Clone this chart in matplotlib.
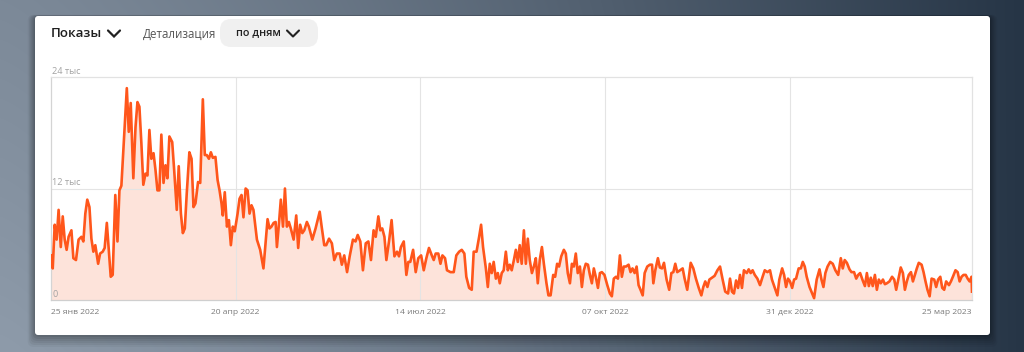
import numpy as np
import matplotlib
matplotlib.use("Agg")
import matplotlib.pyplot as plt
import matplotlib.dates as mdates
from matplotlib.patches import FancyBboxPatch
from matplotlib.transforms import blended_transform_factory
from datetime import datetime

plt.rcParams['font.family'] = ['Open Sans', 'DejaVu Sans']

# ---------------- data ----------------
start_date = "2022-01-25"
# days since start date
day_offset_1 = [0.0,0.8,1.7,2.6,3.5,4.5,5.4,6.3,7.2,8.1,
    9.4,10.3,11.5,12.7,14.0,14.9,15.8,16.7,17.7,18.6,
    19.5,20.4,21.7,22.6,23.8,24.7,25.7,26.6,27.5,28.4,
    29.6,30.6,31.5,32.4,33.3,34.9,35.8,36.7,37.9,38.9,
    39.8,40.7,41.6,42.5,43.5,44.4,45.3,46.2,47.2,48.1,
    49.0,49.9,50.8,51.8,52.7,53.6,54.5,55.8,56.7,57.9,
    58.8,59.8,60.7,61.6,62.5,63.7,64.7,65.6,66.5,67.7,
    68.7,69.9,70.8,71.7,72.7,73.6,74.5,75.7,76.7,77.6,
    78.5,79.1,80.0,81.0,81.9,82.8,83.7,84.6,85.9,86.8,
    87.7,88.6,89.6,90.5,91.4,92.3,93.2,94.8,96.3,97.8,
    99.7,100.6,101.5,102.5,103.4,104.0,104.9,105.8,106.8,107.7,
    108.6,109.5,110.4,111.7,112.9,113.8,114.7,115.7,116.6,117.8,
    118.7,120.3,121.8,123.7,124.6,125.8,126.7,128.0]
views_k_1 = [4.8,3.4,8.1,6.5,9.7,5.7,9.0,6.5,5.4,6.8,
    7.5,4.5,4.3,6.5,6.8,6.3,9.3,10.8,10.0,6.6,
    5.2,5.9,3.9,5.0,5.2,5.6,8.3,5.4,2.5,2.7,
    11.3,6.3,11.8,12.3,16.1,22.8,18.1,21.2,13.1,18.6,
    21.3,20.8,16.9,12.4,13.6,13.4,18.3,15.2,15.8,14.0,
    11.8,11.8,17.8,12.6,14.5,13.1,17.6,17.0,14.0,9.7,
    14.4,9.3,7.2,7.7,11.5,15.9,15.2,10.0,10.4,12.7,
    12.6,21.6,15.6,15.6,15.2,15.9,15.3,15.4,12.9,11.8,
    10.4,9.1,11.6,7.9,8.6,5.9,7.9,7.4,9.3,10.9,
    11.3,8.9,12.0,11.8,9.3,10.2,9.7,6.5,5.4,3.4,
    8.7,7.7,7.9,8.3,8.4,5.7,8.1,10.8,7.9,12.0,
    7.9,8.4,7.7,6.5,9.1,5.6,8.1,7.2,7.5,8.4,
    7.9,6.5,7.7,9.5,7.9,5.9,5.9,6.6]

day_offset_2 = [129.3,130.4,131.6,132.9,133.9,135.0,136.3,137.5,139.0,140.2,
    141.2,142.4,143.6,144.9,146.1,147.3,148.5,149.5,150.7,151.6,
    152.5,153.5,154.4,155.6,156.8,158.1,159.3,160.2,161.1,162.4,
    163.6,164.5,165.4,166.7,167.9,169.1,170.4,171.6,172.8,174.0,
    175.3,176.2,177.1,178.3,179.3,180.2,181.4,182.3,183.9,185.4,
    186.6,187.9,189.1,190.3,191.2,192.5,193.7,194.6,195.9,197.1,
    198.0,198.9,200.2,201.1,202.0,202.9,203.8,204.8,205.7,206.6,
    207.5,208.4,209.4,210.3,211.2,212.1,213.1,214.0,214.9,215.8,
    216.7,217.7,218.6,219.5,220.4,221.4,222.3,223.2,224.1,225.0,
    226.0,226.9,228.1,229.0,230.0,231.2,232.1,233.0,233.9,234.9,
    236.1,237.0,237.9,238.9,239.8,240.7,241.6,242.5,243.5,244.4,
    245.3,246.2,247.2,248.1,249.0,249.9,250.8,251.8,252.7,253.6,
    254.8,256.1,257.3,258.2,259.1,260.1,261.0,261.9,262.8,263.7,
    264.7,265.9,266.8,267.7,268.7,269.6,270.5,271.4,272.4,273.3,
    274.5,275.7]
views_k_2 = [6.1,4.3,5.0,5.0,3.8,4.8,3.0,4.7,6.5,6.3,
    7.0,6.3,3.2,6.1,6.3,4.3,7.5,6.8,9.0,7.5,
    7.7,6.8,4.3,6.3,8.6,4.7,5.2,4.7,5.7,6.3,
    2.7,4.1,4.1,5.4,3.0,4.5,4.8,3.2,4.5,5.6,
    4.8,4.3,5.0,5.0,3.9,4.8,4.5,3.2,3.0,3.0,
    4.8,5.2,5.4,5.0,2.5,1.3,1.1,5.2,5.2,6.8,
    8.1,5.7,3.4,1.4,3.9,2.9,4.1,2.3,2.9,1.8,
    2.9,3.2,5.2,3.2,3.8,3.2,4.3,5.4,4.1,5.9,
    3.9,7.5,3.9,6.6,4.3,2.9,3.6,4.5,1.8,4.3,
    5.7,3.9,1.8,0.5,0.5,2.7,2.5,3.9,3.6,4.7,
    5.4,5.0,2.9,1.8,3.9,3.6,5.0,2.9,3.6,1.4,
    3.2,3.9,3.8,2.7,1.8,3.4,2.5,1.3,2.9,3.0,
    2.7,1.6,0.7,0.4,2.3,2.5,2.3,4.8,2.5,3.6,
    3.6,3.8,3.0,3.4,2.9,3.6,1.6,1.1,0.5,2.9,
    3.6,3.8]

day_offset_3 = [276.7,277.3,278.2,279.4,280.3,281.3,282.2,283.4,284.6,285.6,
    286.5,287.4,288.3,289.6,290.8,291.7,292.9,294.5,295.7,296.9,
    298.2,299.4,300.3,301.2,302.2,303.1,304.3,305.5,306.8,308.0,
    309.2,310.4,311.7,312.6,313.5,314.4,315.4,316.3,317.2,318.1,
    319.0,320.3,321.2,322.1,323.0,324.0,325.2,326.4,327.6,328.6,
    329.8,331.0,331.9,333.2,334.4,335.3,336.6,337.5,338.4,339.3,
    340.2,341.2,342.1,343.0,344.2,345.2,346.1,347.0,347.9,349.2,
    350.4,351.3,352.5,353.8,354.7,355.6,356.5,357.5,358.7,359.9,
    361.1,362.4,363.6,364.5,365.4,366.4,367.6,368.5,369.7,370.7,
    371.6,372.5,373.7,374.7,375.6,376.5,377.4,378.3,379.3,380.2,
    381.1,382.0,383.0,383.9,384.8,386.0,387.2,388.2,389.1,390.3,
    391.2,392.2,393.1,394.0,394.9,395.9,396.8,397.7,398.6,399.5,
    400.8,401.7,402.6,403.5,404.5,405.4,406.6,407.5,408.4,409.4,
    410.3,411.2,412.1,413.4,414.3,415.2,416.4,417.4,418.3,419.2,
    420.1,421.1,422.0,422.9,423.8,424.0]
views_k_3 = [3.8,1.8,3.2,4.5,3.5,3.4,4.0,2.2,1.1,2.9,
    3.0,3.9,3.0,3.2,3.4,2.3,1.1,4.0,3.4,2.3,
    1.3,0.5,1.4,2.0,1.4,2.2,2.4,2.6,3.2,3.6,
    2.2,0.9,0.7,2.3,0.9,0.7,2.1,1.3,2.7,1.3,
    3.2,2.9,3.3,2.9,3.2,2.7,2.3,1.6,2.5,3.2,
    3.0,3.2,2.2,1.3,0.5,2.2,3.4,2.7,1.4,2.3,
    2.0,1.3,2.2,2.3,3.4,3.4,4.1,3.6,2.5,1.4,
    0.7,0.2,2.2,3.3,2.2,1.4,2.9,3.6,4.1,3.9,
    3.2,2.7,4.5,3.4,4.3,4.0,3.3,3.0,3.0,2.3,
    2.7,2.9,2.1,1.5,2.9,1.5,2.4,1.5,2.7,1.1,
    2.2,1.8,2.2,1.7,1.8,2.0,2.5,2.2,1.1,2.5,
    3.5,2.9,1.1,2.0,2.7,3.0,2.0,2.7,3.4,4.0,
    3.8,3.0,2.0,1.1,0.4,2.3,2.2,1.4,2.2,2.5,
    1.3,1.1,2.0,1.6,2.0,2.5,3.2,3.0,2.0,2.5,
    2.7,2.7,2.3,2.0,2.5,0.9]

tick_dates = ["2022-01-25", "2022-04-20", "2022-07-14", "2022-10-07", "2022-12-31", "2023-03-25"]
tick_labels = ["25 янв 2022", "20 апр 2022", "14 июл 2022", "07 окт 2022", "31 дек 2022", "25 мар 2023"]
y_ticks = [0, 12000, 24000]
y_tick_labels = ["0", "12 тыс", "24 тыс"]

# ---------------- figure ----------------
W, H = 1024, 352
fig = plt.figure(figsize=(W / 100, H / 100), dpi=100)

# background
bg = fig.add_axes([0, 0, 1, 1])
bg.set_xlim(0, W)
bg.set_ylim(H, 0)
bg.axis("off")
xs = np.linspace(0, 1, W)[None, :]
ys = np.linspace(0, 1, H)[:, None]
left_c = np.array([124, 137, 152]) / 255
right_c = np.array([38, 53, 70]) / 255
t = np.clip(xs, 0, 1) ** 1.3
img = left_c[None, None, :] * (1 - t[..., None]) + right_c[None, None, :] * t[..., None]
img = img + (ys[..., None] * (1 - t[..., None]) * 0.07)
img = np.clip(img, 0, 1)
bg.imshow(img, extent=[0, W, H, 0], aspect="auto", zorder=0)

# card shadow + card
for i, a in enumerate([0.04, 0.05, 0.05, 0.06, 0.07, 0.08]):
    g = 12 - 2 * i
    bg.add_patch(FancyBboxPatch((35 - g * 0.6, 16 - g * 0.1), 955 + g * 1.2, 319 + g * 1.1,
                                boxstyle="round,pad=0,rounding_size=6",
                                fc="black", ec="none", alpha=a, zorder=1))
bg.add_patch(FancyBboxPatch((35, 16), 955, 319, boxstyle="round,pad=0,rounding_size=3",
                            fc="white", ec="none", zorder=2))

# header
bg.text(51, 33.5, "Показы", fontsize=9.6, fontweight="semibold", color="#1e1e1e",
        va="center", ha="left", zorder=3)
bg.plot([108, 114, 120], [30.5, 36.5, 30.5], color="#222222", lw=1.6,
        solid_capstyle="round", solid_joinstyle="miter", zorder=3)
bg.text(143, 34, "Детализация", fontsize=8.3, color="#555555", va="center", ha="left", zorder=3)
bg.add_patch(FancyBboxPatch((220, 19), 98, 28, boxstyle="round,pad=0,rounding_size=11",
                            fc="#f0f0f0", ec="none", zorder=3))
bg.text(236, 33, "по дням", fontsize=7.8, fontweight="semibold", color="#222222",
        va="center", ha="left", zorder=4)
bg.plot([287, 293, 299], [30.5, 36.5, 30.5], color="#222222", lw=1.5,
        solid_capstyle="round", zorder=4)

# chart axes
x0, x1, y_top, y_bot = 51, 972, 77, 300
ax = fig.add_axes([x0 / W, (H - y_bot) / H, (x1 - x0) / W, (y_bot - y_top) / H])
ax.set_facecolor("none")

start = mdates.date2num(datetime.strptime(start_date, "%Y-%m-%d"))
days = np.array(day_offset_1 + day_offset_2 + day_offset_3)
views = np.array(views_k_1 + views_k_2 + views_k_3) * 1000
xdates = start + days

ax.fill_between(xdates, 0, views, color="#fde3da", lw=0, zorder=1)
tick_nums = [mdates.date2num(datetime.strptime(d, "%Y-%m-%d")) for d in tick_dates]
for tn in tick_nums[1:-1]:
    ax.axvline(tn, color="#e4e4e4", lw=0.8, zorder=1.5)
ax.axhline(y_ticks[1], color="#e4e4e4", lw=0.8, zorder=1.5)
ax.plot(xdates, views, color="#ff561b", lw=1.9, solid_joinstyle="round", zorder=3)

ax.set_xlim(tick_nums[0], tick_nums[-1])
ax.set_ylim(y_ticks[0], y_ticks[-1])
ax.set_xticks([])
ax.set_yticks([])
for side, col in [("left", "#d4d4d4"), ("top", "#e2e2e2"), ("right", "#e2e2e2"), ("bottom", "#cfcfcf")]:
    ax.spines[side].set_color(col)
    ax.spines[side].set_linewidth(0.9)

# y labels (above each gridline, at left)
ytr = blended_transform_factory(ax.transAxes, ax.transData)
for v, lab in zip(y_ticks, y_tick_labels):
    ax.text(0.0015, v + 120, lab, transform=ytr, fontsize=6.6, color="#a3a3a3",
            ha="left", va="bottom", zorder=4)

# x labels
xtr = blended_transform_factory(ax.transData, ax.transAxes)
for i, (tn, lab) in enumerate(zip(tick_nums, tick_labels)):
    ha = "left" if i == 0 else ("right" if i == len(tick_nums) - 1 else "center")
    ax.text(tn, -12 / (y_bot - y_top), lab, transform=xtr, fontsize=6.1, color="#7a7a7a",
            ha=ha, va="center", clip_on=False)

fig.savefig("out.png", dpi=100)
